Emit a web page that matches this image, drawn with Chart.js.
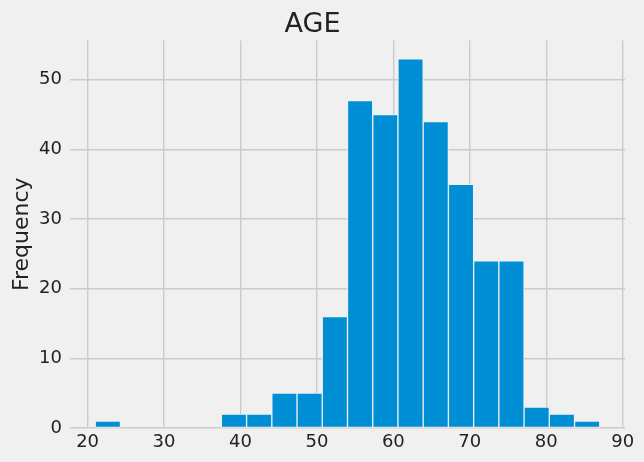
<!DOCTYPE html>
<html>
<head>
<meta charset="utf-8">
<script src="https://cdn.jsdelivr.net/npm/chart.js@4/dist/chart.umd.min.js"></script>
<style>
    body { margin: 0; background: #f0f0f0; }
    canvas { display: block; }
</style>
</head>
<body>
<canvas id="hist" width="644" height="462"></canvas>
<script>
// Histogram of AGE: bin centres (width 3.3, from 21 to 87) and counts
var binCenters = [22.65, 25.95, 29.25, 32.55, 35.85, 39.15, 42.45, 45.75, 49.05, 52.35,
                  55.65, 58.95, 62.25, 65.55, 68.85, 72.15, 75.45, 78.75, 82.05, 85.35];
var counts = [1, 0, 0, 0, 0, 2, 2, 5, 5, 16, 47, 45, 53, 44, 35, 24, 24, 3, 2, 1];
var xTicks = [20, 30, 40, 50, 60, 70, 80, 90];
var yTicks = [0, 10, 20, 30, 40, 50];

var textColor = "#222222";
var gridColor = "#cbcbcb";
var font = "'DejaVu Sans', sans-serif";

var bgPlugin = {
    id: "bg",
    beforeDraw: function(chart){
        var ctx = chart.ctx;
        ctx.save();
        ctx.fillStyle = "#f0f0f0";
        ctx.fillRect(0, 0, chart.width, chart.height);
        ctx.restore();
    }
};

var points = [];
for (var i = 0; i < binCenters.length; ++i)
{
    points.push({x: binCenters[i], y: counts[i]});
}

var ctx = document.getElementById("hist").getContext("2d");
var chart = new Chart(ctx, {
    type: "bar",
    data: {
        datasets: [{
            data: points,
            backgroundColor: "#008fd5",
            borderColor: "#f0f0f0",
            borderWidth: 1,
            borderSkipped: false,
            barPercentage: 1.0,
            categoryPercentage: 1.0
        }]
    },
    options: {
        responsive: false,
        animation: false,
        devicePixelRatio: 1,
        layout: { padding: { left: 0, right: 19, top: 0, bottom: 0 } },
        plugins: {
            legend: { display: false },
            tooltip: { enabled: false },
            title: {
                display: true,
                text: "AGE",
                color: textColor,
                font: { family: font, size: 27, weight: "normal" },
                padding: { top: 9, bottom: -1 }
            }
        },
        scales: {
            x: {
                type: "linear",
                min: 17.7,
                max: 90.3,
                offset: false,
                afterBuildTicks: function(scale){
                    scale.ticks = xTicks.map(function(v){ return {value: v}; });
                },
                afterFit: function(scale){ scale.height = 34; },
                grid: { color: gridColor, lineWidth: 1.4, drawTicks: false, offset: false },
                border: { display: false },
                ticks: { color: textColor, font: { family: font, size: 18 }, padding: 4, maxRotation: 0 }
            },
            y: {
                min: 0,
                max: 55.65,
                afterBuildTicks: function(scale){
                    scale.ticks = yTicks.map(function(v){ return {value: v}; });
                },
                afterFit: function(scale){ scale.width = 70; },
                grid: { color: gridColor, lineWidth: 1.4, drawTicks: false },
                border: { display: false },
                ticks: { color: textColor, font: { family: font, size: 18 }, padding: 8 },
                title: {
                    display: true,
                    text: "Frequency",
                    color: textColor,
                    font: { family: font, size: 22 },
                    padding: { top: 9, bottom: 0 }
                }
            }
        }
    },
    plugins: [bgPlugin]
});
</script>
</body>
</html>
